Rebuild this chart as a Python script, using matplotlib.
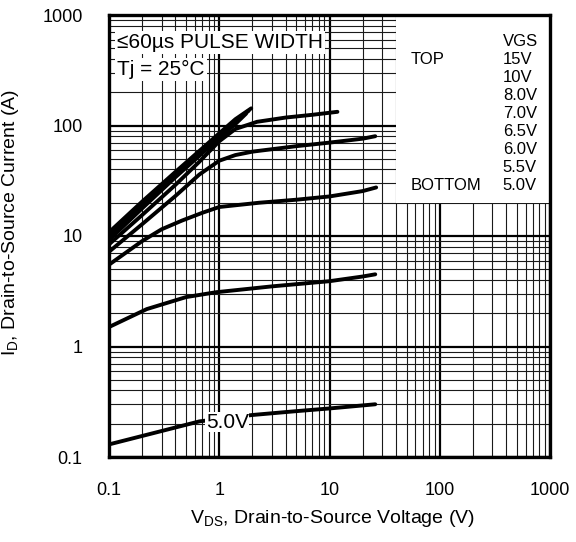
import numpy as np
import matplotlib
matplotlib.use('Agg')
import matplotlib.pyplot as plt
from matplotlib.patches import Rectangle

plt.rcParams['font.family'] = ['Liberation Sans', 'DejaVu Sans']
plt.rcParams['mathtext.fontset'] = 'custom'
plt.rcParams['mathtext.rm'] = 'Liberation Sans'
plt.rcParams['mathtext.it'] = 'Liberation Sans'

# output characteristics, ID (A) vs VDS (V), one curve per VGS
vds_15 = [0.1, 0.2, 0.4, 0.7, 1.0, 1.4, 1.95]
id_15 = [10.8, 20.5, 38, 62, 85, 114, 143]
vds_10 = [0.1, 0.2, 0.4, 0.7, 1.0, 1.4, 1.85]
id_10 = [10.0, 19.2, 36, 59, 81, 108, 136]
vds_8 = [0.1, 0.2, 0.4, 0.7, 1.0, 1.4, 1.75]
id_8 = [9.2, 17.8, 34, 56, 77, 103, 128]
vds_7 = [0.1, 0.2, 0.4, 0.66, 1.0, 1.4, 2.2, 4.0, 7.0, 11.8]
id_7 = [8.4, 15.5, 29, 47, 72, 93, 108, 118, 125, 133]
vds_65 = [0.1, 0.2, 0.4, 0.66, 1.0, 1.4, 2.0, 5.0, 10, 20, 26]
id_65 = [7.2, 12.8, 23, 36, 48, 54, 58, 65, 70, 76, 80]
vds_6 = [0.1, 0.2, 0.3, 0.46, 0.7, 1.0, 2.3, 5.0, 10, 20, 26.5]
id_6 = [5.5, 9.0, 11.5, 13.8, 16.2, 18.3, 20.0, 21.3, 22.8, 25.5, 27.5]
vds_55 = [0.1, 0.22, 0.5, 0.94, 3.0, 10, 20, 26]
id_55 = [1.5, 2.18, 2.8, 3.1, 3.5, 3.9, 4.3, 4.5]
vds_5 = [0.1, 0.2, 0.66, 2.0, 5.0, 10, 26]
id_5 = [0.13, 0.155, 0.21, 0.24, 0.26, 0.275, 0.30]

vgs_labels = ['15V', '10V', '8.0V', '7.0V', '6.5V', '6.0V', '5.5V', '5.0V']
x_ticks = [0.1, 1, 10, 100, 1000]
y_ticks = [0.1, 1, 10, 100, 1000]
tick_labels = ['0.1', '1', '10', '100', '1000']

fig = plt.figure(figsize=(5.76, 5.42), dpi=100)
ax = fig.add_axes([109 / 576, 1 - 457 / 542, 441 / 576, 442 / 542])
ax.set_xscale('log')
ax.set_yscale('log')
ax.set_xlim(0.1, 1000)
ax.set_ylim(0.1, 1000)

ax.set_xticks(x_ticks)
ax.set_xticklabels(tick_labels)
ax.set_yticks(y_ticks)
ax.set_yticklabels(tick_labels)
ax.tick_params(which='both', length=0, labelsize=13)
ax.tick_params(axis='x', pad=18)
ax.tick_params(axis='y', pad=19)

ax.grid(which='major', color='black', lw=1.6)
ax.grid(which='minor', color='0.1', lw=0.8)
for s in ax.spines.values():
    s.set_linewidth(2.4)
    s.set_zorder(6)

curves = [(vds_15, id_15), (vds_10, id_10), (vds_8, id_8), (vds_7, id_7),
          (vds_65, id_65), (vds_6, id_6), (vds_55, id_55), (vds_5, id_5)]
for vx, iy in curves:
    ax.plot(vx, iy, 'k-', lw=2.8, solid_capstyle='round', zorder=4)

# VGS key in the upper right corner
ax.add_patch(Rectangle((0.651, 0.575), 0.349, 0.425, transform=ax.transAxes,
                       facecolor='white', edgecolor='none', zorder=3))
ax.text(0.893, 0.939, 'VGS', transform=ax.transAxes, fontsize=12,
        va='center', zorder=5)
for i, lab in enumerate(vgs_labels):
    yy = (457 - (60 + 17.9 * i)) / 442
    ax.text(0.893, yy, lab, transform=ax.transAxes, fontsize=12,
            va='center', zorder=5)
ax.text(0.683, (457 - 60) / 442, 'TOP', transform=ax.transAxes,
        fontsize=12, va='center', zorder=5)
ax.text(0.683, (457 - 185) / 442, 'BOTTOM', transform=ax.transAxes,
        fontsize=12, va='center', zorder=5)

box = dict(facecolor='white', edgecolor='none', pad=1.5)
ax.text(0.018, 0.937, '≤60µs PULSE WIDTH', transform=ax.transAxes,
        fontsize=15, va='center', bbox=box, zorder=5)
ax.text(0.018, 0.876, 'Tj = 25°C', transform=ax.transAxes,
        fontsize=15, va='center', bbox=box, zorder=5)

ax.text(1.18, 0.207, '5.0V', fontsize=15, ha='center', va='center',
        bbox=dict(facecolor='white', edgecolor='none', pad=0.5), zorder=5)

ax.set_xlabel(r'V$_{\mathrm{DS}}$, Drain-to-Source Voltage (V)', fontsize=14)
ax.set_ylabel(r'I$_{\mathrm{D}}$, Drain-to-Source Current (A)', fontsize=14)
ax.xaxis.set_label_coords(0.506, -0.115)
ax.yaxis.set_label_coords(-0.2, 0.53)

plt.savefig('out.png', dpi=100)
